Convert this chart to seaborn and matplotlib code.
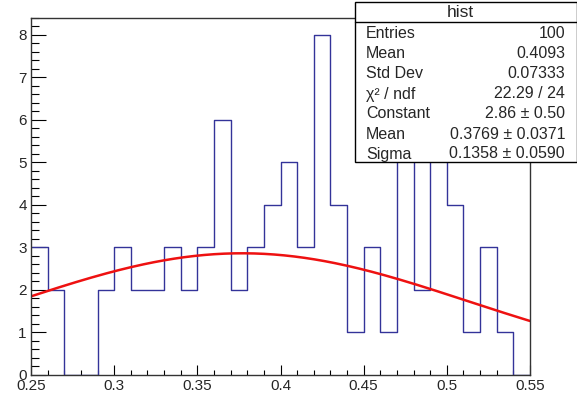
import numpy as np
import pandas as pd
import matplotlib
matplotlib.use("Agg")
import matplotlib.pyplot as plt
import seaborn as sns
from matplotlib.patches import Rectangle
from matplotlib.lines import Line2D

# ---- data ----
bin_edges = [round(0.25 + 0.01 * i, 2) for i in range(31)]
counts = [3, 2, 0, 0, 2, 3, 2, 2, 3, 2,
          3, 6, 2, 3, 4, 5, 3, 8, 4, 1,
          3, 1, 7, 2, 7, 4, 1, 3, 1, 0]
x_ticks = [0.25, 0.3, 0.35, 0.4, 0.45, 0.5, 0.55]
x_tick_labels = ["0.25", "0.3", "0.35", "0.4", "0.45", "0.5", "0.55"]
y_ticks = [0, 1, 2, 3, 4, 5, 6, 7, 8]

# Gaussian fit parameters shown in the stats box
fit_constant = 2.86
fit_mean = 0.3769
fit_sigma = 0.1358

stats_title = "hist"
stats_labels = ["Entries", "Mean", "Std Dev", "χ² / ndf", "Constant", "Mean", "Sigma"]
stats_values = ["100", "0.4093", "0.07333", "22.29 / 24", "2.86 ± 0.50",
                "0.3769 ± 0.0371", "0.1358 ± 0.0590"]

centers = [(bin_edges[i] + bin_edges[i + 1]) / 2 for i in range(len(counts))]
df = pd.DataFrame({"x": centers, "n": counts})

fit_x = np.linspace(bin_edges[0], bin_edges[-1], 200)
fit_y = fit_constant * np.exp(-0.5 * ((fit_x - fit_mean) / fit_sigma) ** 2)
fit_df = pd.DataFrame({"x": fit_x, "y": fit_y})

sns.set_theme(style="white")
plt.rcParams["font.family"] = ["Liberation Sans", "DejaVu Sans"]

W, H = 577, 400
fig = plt.figure(figsize=(W / 100, H / 100), dpi=100)
ax = fig.add_axes([31 / W, (H - 375) / H, (530 - 31) / W, (375 - 17.5) / H])

sns.histplot(data=df, x="x", weights="n", bins=bin_edges, element="step",
             fill=False, color="#333399", linewidth=1.0, ax=ax)
sns.lineplot(data=fit_df, x="x", y="y", color="#ee1111", linewidth=1.8, ax=ax)

ax.set_xlim(0.25, 0.55)
ax.set_ylim(0, 8.4)
ax.set_xlabel("")
ax.set_ylabel("")
ax.set_xticks(x_ticks)
ax.set_xticklabels(x_tick_labels)
ax.set_xticks([round(0.25 + 0.01 * i, 2) for i in range(31)], minor=True)
ax.set_yticks(y_ticks)
ax.set_yticks(np.arange(0, 8.41, 0.2), minor=True)

ax.tick_params(axis="x", which="major", direction="in", length=7.2, width=0.8,
               color="black", labelsize=11, pad=3, bottom=True, top=False)
ax.tick_params(axis="x", which="minor", direction="in", length=3.6, width=0.8,
               color="black", bottom=True, top=False)
ax.tick_params(axis="y", which="major", direction="in", length=10.8, width=0.8,
               color="black", labelsize=11, pad=3, left=True, right=False)
ax.tick_params(axis="y", which="minor", direction="in", length=5.8, width=0.8,
               color="black", left=True, right=False)
for s in ax.spines.values():
    s.set_visible(True)
    s.set_color("#333333")
    s.set_linewidth(1.0)
ax.grid(False)

# ---- stats box ----
bx0, bx1 = 355 / W, 1.0
by0, by1 = (H - 162) / H, (H - 2) / H
box = Rectangle((bx0, by0), bx1 - bx0, by1 - by0, transform=fig.transFigure,
                facecolor="white", edgecolor="black", linewidth=1.0, zorder=10)
fig.patches.append(box)
fig.lines.append(Line2D([bx0, bx1], [(H - 22) / H] * 2, transform=fig.transFigure,
                        color="black", linewidth=1.0, zorder=11))
fig.text((bx0 + 565 / W) / 2, (H - 12.5) / H, stats_title, ha="center", va="center",
         fontsize=12.5, zorder=12)
row_y = [33, 53.5, 74, 94, 114, 134.5, 154]
for lab, val, yy in zip(stats_labels, stats_values, row_y):
    fig.text(366 / W, (H - yy) / H, lab, ha="left", va="center", fontsize=11.5, zorder=12)
    fig.text(565 / W, (H - yy) / H, val, ha="right", va="center", fontsize=11.5, zorder=12)

fig.savefig("out.png", dpi=100, facecolor="white")
